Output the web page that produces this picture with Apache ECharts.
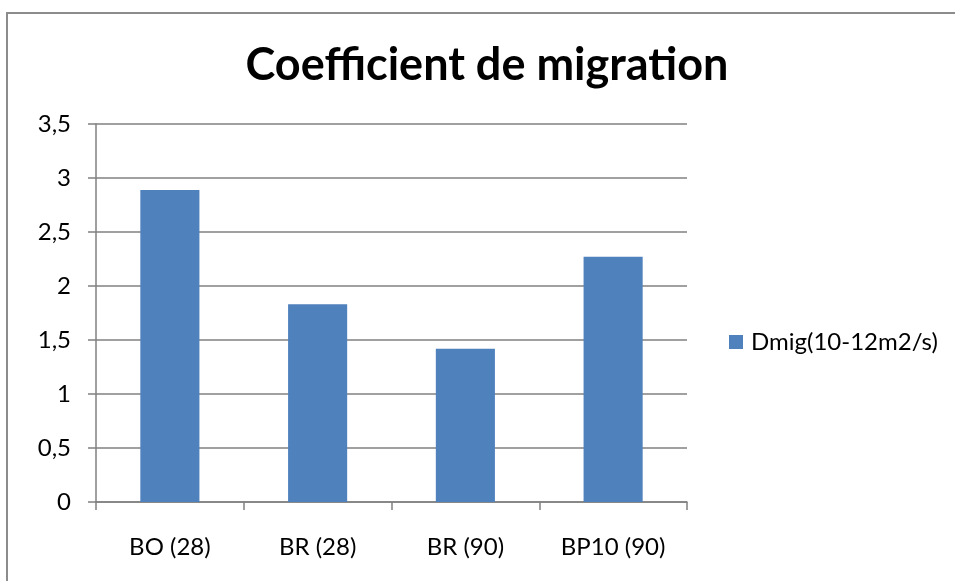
<!DOCTYPE html>
<html>
<head>
<meta charset="utf-8">
<script src="https://cdn.jsdelivr.net/npm/echarts@6/dist/echarts.min.js"></script>
<style>
  html, body { margin: 0; padding: 0; background: #fff; }
  #chart { width: 955px; height: 581px; }
</style>
</head>
<body>
<div id="chart"></div>
<script>
// Migration coefficient per mix (age in days)
const categories = ['BO (28)', 'BR (28)', 'BR (90)', 'BP10 (90)'];
const dmigValues = [2.89, 1.83, 1.42, 2.27];
const seriesName = 'Dmig(10-12m2/s)';
const chartTitle = 'Coefficient de migration';

const FONT = 'Lato, "Open Sans", sans-serif';
const chart = echarts.init(document.getElementById('chart'), null, { renderer: 'canvas' });

chart.setOption({
  backgroundColor: '#ffffff',
  animation: false,
  title: {
    text: chartTitle,
    left: 482,
    textAlign: 'center',
    top: 38,
    textStyle: { fontFamily: FONT, fontWeight: 'bold', fontSize: 45, color: '#000' }
  },
  legend: {
    left: 729,
    top: 330,
    padding: 0,
    itemWidth: 14,
    itemHeight: 14,
    icon: 'rect',
    textStyle: { fontFamily: FONT, fontSize: 24, color: '#000', padding: [0, 0, 0, 3] },
    data: [seriesName]
  },
  grid: { left: 96, right: 268, top: 124, bottom: 79, containLabel: false },
  xAxis: {
    type: 'category',
    data: categories,
    boundaryGap: true,
    axisLine: { lineStyle: { color: '#808080', width: 1.5 } },
    axisTick: { show: true, length: 8, lineStyle: { color: '#808080', width: 1.5 } },
    axisLabel: { fontFamily: FONT, fontSize: 24, color: '#000', margin: 33 }
  },
  yAxis: {
    type: 'value',
    min: 0,
    max: 3.5,
    interval: 0.5,
    axisLine: { show: true, lineStyle: { color: '#808080', width: 1.5 } },
    axisTick: { show: true, length: 8, lineStyle: { color: '#808080', width: 1.5 } },
    axisLabel: {
      fontFamily: FONT, fontSize: 24, color: '#000', margin: 25,
      formatter: v => String(v).replace('.', ',')
    },
    splitLine: { show: true, lineStyle: { color: '#808080', width: 1.5 } }
  },
  series: [{
    name: seriesName,
    type: 'bar',
    data: dmigValues,
    barWidth: '40%',
    itemStyle: { color: '#4f81bd' }
  }],
  graphic: [{
    type: 'polyline',
    shape: { points: [[7, 600], [7, 13], [960, 13]] },
    style: { stroke: '#8c8c8c', lineWidth: 2, fill: null },
    silent: true
  }]
});
</script>
</body>
</html>
